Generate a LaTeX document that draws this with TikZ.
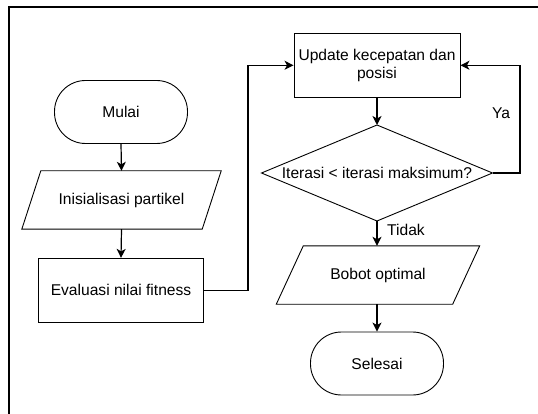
\documentclass[tikz,border=0pt]{standalone}
\usepackage{fontspec}
\setmainfont{Liberation Sans}
\usetikzlibrary{arrows.meta}

\tikzset{
  base/.style={font=\fontsize{15.6}{18.5}\selectfont, align=center, inner sep=0pt},
  terminal/.style={base, draw, line width=0.9pt, rounded corners=31pt,
    minimum width=133pt, minimum height=63pt},
  process/.style={base, draw, line width=0.9pt, minimum width=165pt, minimum height=64pt},
  iobox/.style={base, minimum height=58pt},
  decision/.style={base},
  flow/.style={line width=1.2pt, -{Stealth[length=9pt,width=9pt,inset=2.5pt]}},
  lbl/.style={font=\fontsize{15.6}{18.5}\selectfont, inner sep=0pt}
}

\begin{document}
\begin{tikzpicture}[x=1pt, y=-1pt]
  \useasboundingbox (0,0) rectangle (538,414);

  % frame around the flowchart
  \draw[line width=2pt] (9,414) -- (9,7) -- (538,7);

  % left column
  \node[terminal] (mulai) at (121,112) {Mulai};
  \node[iobox, minimum width=180pt] (init) at (121.5,200) {Inisialisasi partikel};
  \draw[line width=0.9pt] ([xshift=9.5pt]init.north west) -- ([xshift=9.5pt]init.north east)
    -- ([xshift=-9.5pt]init.south east) -- ([xshift=-9.5pt]init.south west) -- cycle;
  \node[process] (eval) at (121,290.3) {Evaluasi nilai fitness};

  % right column
  \node[process, minimum width=166pt] (update) at (377,65.3) {Update kecepatan dan\\posisi};
  \coordinate (dc) at (377,173);
  \coordinate (dtop) at (377,125);
  \coordinate (dbot) at (377,221);
  \coordinate (dleft) at (261.5,173);
  \coordinate (dright) at (492.5,173);
  \draw[line width=0.9pt] (dtop) -- (dright) -- (dbot) -- (dleft) -- cycle;
  \node[decision] (cond) at (dc) {Iterasi < iterasi maksimum?};
  \node[iobox, minimum width=176pt] (bobot) at (378,275) {Bobot optimal};
  \draw[line width=0.9pt] ([xshift=13.5pt]bobot.north west) -- ([xshift=13.5pt]bobot.north east)
    -- ([xshift=-13.5pt]bobot.south east) -- ([xshift=-13.5pt]bobot.south west) -- cycle;
  \node[terminal] (selesai) at (377,363.5) {Selesai};

  % connectors
  \draw[flow] (mulai.south) -- (init.north);
  \draw[flow] (init.south) -- (eval.north);
  \coordinate (bend) at (248,290.3);
  \draw[flow] (eval.east) -- (bend) |- (update.west);
  \draw[flow] (update.south) -- (dtop);
  \coordinate (loop) at (520,173);
  \draw[flow] (dright) -- (loop) |- (update.east);
  \draw[flow] (dbot) -- (bobot.north -| dbot);
  \draw[flow] (bobot.south -| selesai.north) -- (selesai.north);

  % branch labels
  \node[lbl] (ya) at (501,113) {Ya};
  \node[lbl] (tidak) at (406,230) {Tidak};
\end{tikzpicture}
\end{document}
